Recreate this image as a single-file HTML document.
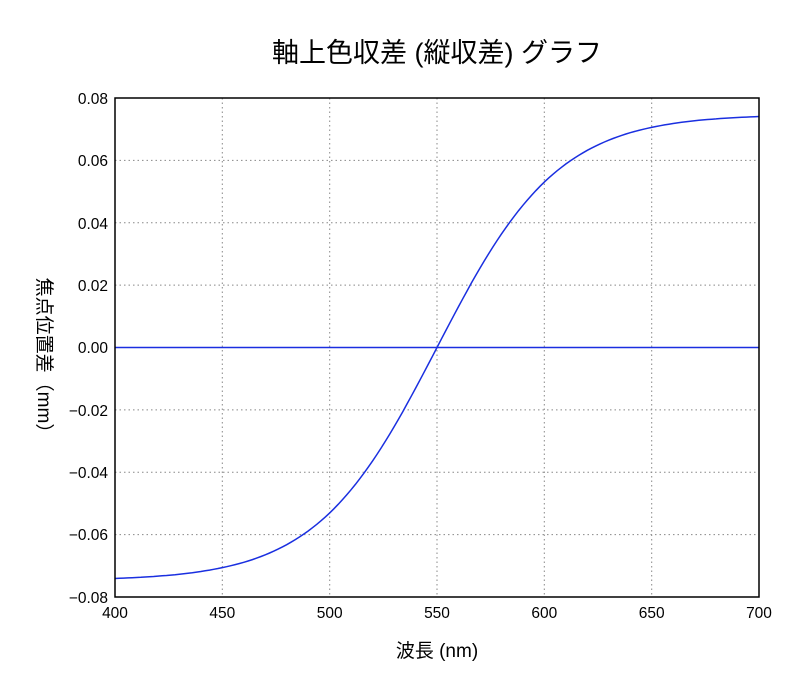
<!DOCTYPE html>
<html><head><meta charset="utf-8"><style>
body{margin:0;background:#fff;}
svg text{font-family:"Liberation Sans","Noto Sans CJK JP",sans-serif;fill:#000;}
</style></head><body>
<svg id="s" width="800" height="692" viewBox="0 0 800 692" xmlns="http://www.w3.org/2000/svg">
<text x="437" y="62" font-size="27" text-anchor="middle">軸上色収差 (縦収差) グラフ</text>
<g stroke="#888" stroke-width="1" stroke-dasharray="1.5,3">
<line x1="222.3" y1="98" x2="222.3" y2="597"/>
<line x1="329.7" y1="98" x2="329.7" y2="597"/>
<line x1="437" y1="98" x2="437" y2="597"/>
<line x1="544.3" y1="98" x2="544.3" y2="597"/>
<line x1="651.7" y1="98" x2="651.7" y2="597"/>
<line x1="115" y1="160.4" x2="759" y2="160.4"/>
<line x1="115" y1="222.8" x2="759" y2="222.8"/>
<line x1="115" y1="285.1" x2="759" y2="285.1"/>
<line x1="115" y1="347.5" x2="759" y2="347.5"/>
<line x1="115" y1="409.9" x2="759" y2="409.9"/>
<line x1="115" y1="472.3" x2="759" y2="472.3"/>
<line x1="115" y1="534.6" x2="759" y2="534.6"/>
</g>
<line x1="115" y1="347.5" x2="759" y2="347.5" stroke="#1a2fe0" stroke-width="1.5"/>
<path id="c" fill="none" stroke="#1a2fe0" stroke-width="1.5"/>
<rect x="115" y="98" width="644" height="499" fill="none" stroke="#000" stroke-width="1.5"/>
<g font-size="15.5" text-anchor="end">
<text x="108" y="104">0.08</text><text x="108" y="166">0.06</text><text x="108" y="229">0.04</text>
<text x="108" y="291">0.02</text><text x="108" y="353">0.00</text><text x="108" y="416">−0.02</text>
<text x="108" y="478">−0.04</text><text x="108" y="540">−0.06</text><text x="108" y="603">−0.08</text>
</g>
<g font-size="15.5" text-anchor="middle">
<text x="115" y="618">400</text><text x="222.3" y="618">450</text><text x="329.7" y="618">500</text>
<text x="437" y="618">550</text><text x="544.3" y="618">600</text><text x="651.7" y="618">650</text><text x="759" y="618">700</text>
</g>
<text x="437" y="657" font-size="19" text-anchor="middle">波長 (nm)</text>
<text transform="translate(38,360) rotate(90)" font-size="19" text-anchor="middle">焦点位置差（mm）</text>
</svg>
<script>
var d="";for(var i=0;i<=300;i+=2){var x=400+i;var v=0.0748*Math.tanh((x-550)/56.5);var px=115+i*644/300;var py=347.5-v*499/0.16;d+=(i?"L":"M")+px.toFixed(1)+","+py.toFixed(1);}
document.getElementById("c").setAttribute("d",d);
</script>
</body></html>
